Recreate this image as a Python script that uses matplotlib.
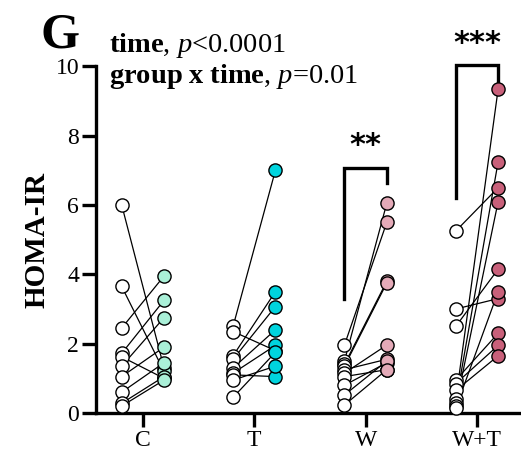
import numpy as np
import matplotlib
matplotlib.use("Agg")
import matplotlib.pyplot as plt

plt.rcParams['font.family'] = ['Liberation Serif', 'DejaVu Serif']
plt.rcParams['mathtext.fontset'] = 'custom'
plt.rcParams['mathtext.rm'] = 'Liberation Serif'
plt.rcParams['mathtext.it'] = 'Liberation Serif:italic'
plt.rcParams['mathtext.bf'] = 'Liberation Serif:bold'

groups = ['C', 'T', 'W', 'W+T']
colors = ['#aaf0d8', '#00d4de', '#e4aab8', '#c8607a']

# HOMA-IR before / after, one pair per subject
c_pre = [6.0, 3.65, 2.45, 1.72, 1.62, 1.35, 1.05, 0.6, 0.28, 0.2]
c_post = [1.3, 1.2, 3.95, 3.25, 1.0, 2.75, 1.9, 1.45, 1.05, 0.95]
t_pre = [2.5, 2.35, 1.65, 1.55, 1.3, 1.15, 1.1, 0.95, 0.45]
t_post = [7.0, 1.8, 3.5, 3.07, 2.4, 1.95, 1.05, 1.35, 1.75]
w_pre = [1.96, 1.5, 1.4, 1.35, 1.25, 1.15, 1.05, 0.8, 0.52, 0.23]
w_post = [5.5, 6.05, 3.8, 3.75, 1.55, 1.96, 1.25, 1.45, 1.5, 1.25]
wt_pre = [5.25, 3.0, 2.5, 0.95, 0.85, 0.65, 0.4, 0.3, 0.2, 0.15]
wt_post = [6.5, 3.3, 4.15, 2.3, 1.95, 1.65, 9.35, 7.25, 6.1, 3.5]

pres = [c_pre, t_pre, w_pre, wt_pre]
posts = [c_post, t_post, w_post, wt_post]

fig = plt.figure(figsize=(5.21, 4.55), dpi=100)
ax = fig.add_axes([0.184, 0.0923, 0.816, 0.762])

off = 0.19
for i in range(4):
    for a, b in zip(pres[i], posts[i]):
        ax.plot([i - off, i + off], [a, b], color='black', lw=0.9, zorder=2)
    ax.plot([i - off] * len(pres[i]), pres[i], 'o', ms=9.5, mfc='white',
            mec='black', mew=1.0, zorder=3, clip_on=False)
    ax.plot([i + off] * len(posts[i]), posts[i], 'o', ms=9.5, mfc=colors[i],
            mec='black', mew=1.0, zorder=3, clip_on=False)

# significance brackets
ax.plot([2 - off, 2 - off, 2 + off, 2 + off], [3.3, 7.07, 7.07, 6.62],
        color='black', lw=2.4, clip_on=False, solid_joinstyle='miter')
ax.text(2, 7.3, '**', ha='center', va='bottom', fontsize=22,
        family='DejaVu Sans', fontweight='bold')
ax.plot([3 - off, 3 - off, 3 + off, 3 + off], [6.2, 10.05, 10.05, 9.52],
        color='black', lw=2.4, clip_on=False, solid_joinstyle='miter')
ax.text(3, 10.25, '***', ha='center', va='bottom', fontsize=22,
        family='DejaVu Sans', fontweight='bold')

ax.set_xlim(-0.422, 3.395)
ax.set_ylim(0, 10)
ax.set_xticks(range(4))
ax.set_xticklabels(groups)
ax.set_yticks([0, 2, 4, 6, 8, 10])
ax.tick_params(axis='both', width=2.4, length=10, labelsize=17, pad=2)
for s in ['top', 'right']:
    ax.spines[s].set_visible(False)
for s in ['left', 'bottom']:
    ax.spines[s].set_linewidth(2.4)
ax.set_ylabel('HOMA-IR', fontsize=21, fontweight='bold', labelpad=4)

fig.text(0.077, 0.895, 'G', fontsize=36, fontweight='bold')
fig.text(0.21, 0.885, r'$\mathbf{time}$, $p$<0.0001', fontsize=20.5)
fig.text(0.21, 0.817, r'$\mathbf{group\ x\ time}$, $p$=0.01', fontsize=20.5)

fig.savefig('out.png', dpi=100)
